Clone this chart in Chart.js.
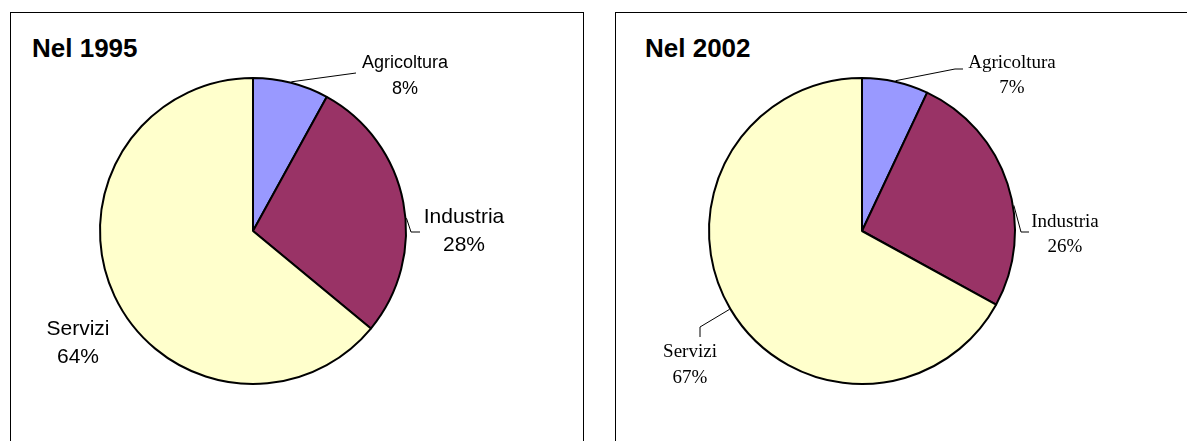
<!DOCTYPE html>
<html>
<head>
<meta charset="utf-8">
<script src="https://cdn.jsdelivr.net/npm/chart.js@4/dist/chart.umd.min.js"></script>
<style>
  html, body { margin:0; padding:0; background:#fff; width:1187px; height:441px; overflow:hidden; }
  .panel { position:absolute; border:1px solid #000; box-sizing:border-box; background:#fff; }
  canvas { position:absolute; }
  .title { position:absolute; font-family:"Liberation Sans", Arial, sans-serif; font-weight:bold; font-size:26px; color:#000; line-height:1; }
</style>
</head>
<body>
<div class="panel" style="left:10px; top:12px; width:574px; height:460px;"></div>
<div class="panel" style="left:615px; top:12px; width:600px; height:460px;"></div>
<div class="title" id="t1" style="left:32px; top:35px;"></div>
<div class="title" id="t2" style="left:645px; top:35px;"></div>
<canvas id="c1" width="572" height="428" style="left:11px; top:13px;"></canvas>
<canvas id="c2" width="571" height="428" style="left:616px; top:13px;"></canvas>
<script>
// ---- data ----
const categories = ['Agricoltura', 'Industria', 'Servizi'];
const values1995 = [8, 28, 64];
const values2002 = [7, 26, 67];
const titles = ['Nel 1995', 'Nel 2002'];
const sliceColors = ['#9999FF', '#993366', '#FFFFCC'];

// ---- label layout (relative to pie centre) ----
const labelLayout1995 = [
  { dx: 152, y1: -168, y2: -142, font: '18px "Liberation Sans", Arial, sans-serif', t: 0.5, path: [[103, -158]] },
  { dx: 211, y1: -14, y2: 14, font: '21px "Liberation Sans", Arial, sans-serif', t: 0.56, path: [[158, 1], [167, 1]] },
  { dx: -175, y1: 98, y2: 126, font: '21px "Liberation Sans", Arial, sans-serif', t: 0.5, path: null }
];
const labelLayout2002 = [
  { dx: 150, y1: -168, y2: -143, font: '19px "Liberation Serif", "Times New Roman", serif', t: 0.5, path: [[93, -162], [101, -162]] },
  { dx: 203, y1: -9, y2: 16, font: '19px "Liberation Serif", "Times New Roman", serif', t: 0.59, path: [[159, 1], [167, 1]] },
  { dx: -172, y1: 121, y2: 147, font: '19px "Liberation Serif", "Times New Roman", serif', t: 0.5, path: [[-162, 96], [-162, 106]] }
];

const labelPlugin = {
  id: 'pieLabels',
  afterDatasetsDraw(chart, args, opts) {
    const ctx = chart.ctx;
    const meta = chart.getDatasetMeta(0);
    const ds = chart.data.datasets[0];
    meta.data.forEach((arc, i) => {
      const L = opts.layout[i];
      const p = arc.getProps(['x', 'y', 'startAngle', 'endAngle', 'outerRadius'], true);
      const cx = p.x, cy = p.y;
      ctx.save();
      if (L.path) {
        const a = p.startAngle + L.t * (p.endAngle - p.startAngle);
        const r = p.outerRadius + 1;
        ctx.beginPath();
        ctx.moveTo(cx + r * Math.cos(a), cy + r * Math.sin(a));
        L.path.forEach(pt => ctx.lineTo(cx + pt[0], cy + pt[1]));
        ctx.strokeStyle = '#000';
        ctx.lineWidth = 1;
        ctx.stroke();
      }
      ctx.fillStyle = '#000';
      ctx.font = L.font;
      ctx.textAlign = 'center';
      ctx.textBaseline = 'middle';
      ctx.fillText(chart.data.labels[i], cx + L.dx, cy + L.y1);
      ctx.fillText(ds.data[i] + '%', cx + L.dx, cy + L.y2);
      ctx.restore();
    });
  }
};

function makePie(id, values, layout, padding) {
  return new Chart(document.getElementById(id), {
    type: 'pie',
    data: {
      labels: categories,
      datasets: [{
        data: values,
        backgroundColor: sliceColors,
        borderColor: '#000',
        borderWidth: 2,
        radius: 153
      }]
    },
    options: {
      responsive: false,
      animation: false,
      devicePixelRatio: 1,
      layout: { padding: padding },
      plugins: {
        legend: { display: false },
        tooltip: { enabled: false },
        title: { display: false },
        pieLabels: { layout: layout }
      }
    },
    plugins: [labelPlugin]
  });
}

document.getElementById('t1').textContent = titles[0];
document.getElementById('t2').textContent = titles[1];

// pie centre (page): 1995 -> (253,231); 2002 -> (862,231)
makePie('c1', values1995, labelLayout1995, { left: 0, right: 572 - 484, top: 10, bottom: 428 - 426 });
makePie('c2', values2002, labelLayout2002, { left: 0, right: 571 - 492, top: 10, bottom: 428 - 426 });
</script>
</body>
</html>
